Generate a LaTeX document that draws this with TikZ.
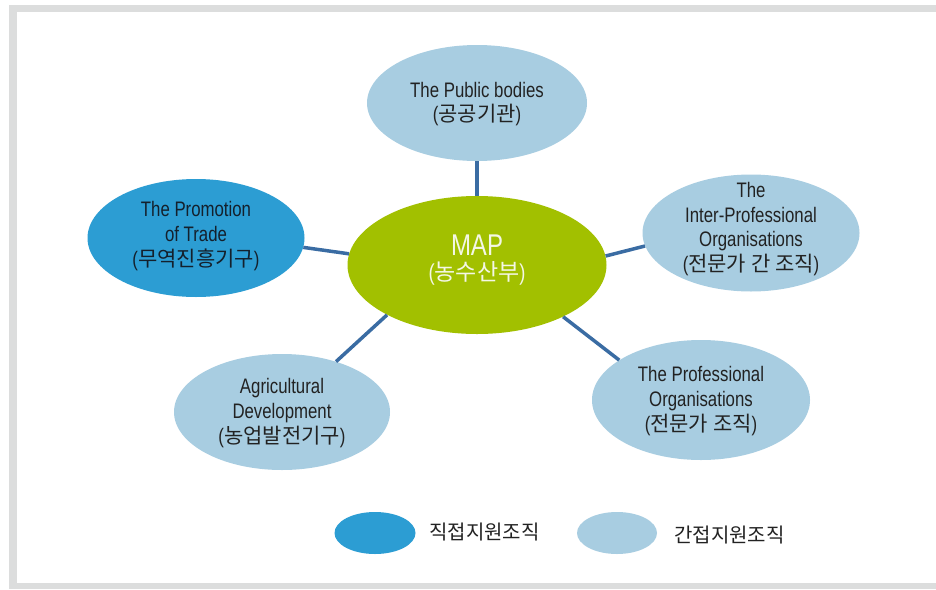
\documentclass[tikz,border=0pt]{standalone}
\usepackage{fontspec}
\setmainfont[FakeStretch=0.8]{Liberation Sans}
\newfontfamily\krfont{Noto Sans CJK KR}
\usetikzlibrary{shapes.geometric}

\definecolor{mapgreen}{HTML}{A2C000}
\definecolor{directblue}{HTML}{2C9DD3}
\definecolor{indirectblue}{HTML}{A8CDE1}
\definecolor{linkblue}{HTML}{3A6CA3}
\definecolor{framegray}{HTML}{DCDDDD}
\definecolor{labeltext}{HTML}{222222}
\definecolor{darklabel}{HTML}{14202C}
\definecolor{hublabel}{HTML}{F4F7E6}

\tikzset{
  blob/.style={ellipse, draw=none, inner sep=0pt},
  indirect/.style={blob, fill=indirectblue},
  direct/.style={blob, fill=directblue},
  hub/.style={blob, fill=mapgreen},
  caption/.style={align=center, text=labeltext, inner sep=0pt,
    font=\fontsize{21}{24.8}\selectfont},
  keytext/.style={anchor=west, text=labeltext, inner sep=0pt,
    font=\fontsize{20}{22}\selectfont\krfont},
  link/.style={draw=linkblue, line width=3.5pt},
}

\begin{document}
\begin{tikzpicture}[x=1pt, y=-1pt]
  \useasboundingbox (0,0) rectangle (936,589);
  \fill[white] (0,0) rectangle (936,589);

  % frame
  \fill[framegray] (9,5) rectangle (936,12);
  \fill[framegray] (9,5) rectangle (17,589);
  \fill[framegray] (9,583) rectangle (936,589);

  % organisations
  \node[indirect, minimum width=220pt, minimum height=116pt] (pub) at (477,103) {};
  \node[indirect, minimum width=217pt, minimum height=117pt] (inter) at (751,233) {};
  \node[indirect, minimum width=218pt, minimum height=120pt] (prof) at (701,400) {};
  \node[indirect, minimum width=216pt, minimum height=116pt] (agri) at (282,412) {};
  \node[direct, minimum width=217pt, minimum height=118pt] (promo) at (196,238) {};
  \node[hub, minimum width=259pt, minimum height=138pt] (map) at (477,265) {};

  % links to the ministry
  \draw[link] (pub.-90) -- (map.90);
  \draw[link] (promo.-5) -- (map.175);
  \draw[link] (inter.187) -- (map.4);
  \draw[link] (prof.154) -- (map.-31);
  \draw[link] (agri.43) -- (map.209);

  % labels
  \node[caption] (pubtext) at ([yshift=-1pt]pub.center) {The Public bodies\\({\krfont 공공기관})};
  \node[caption] (intertext) at ([yshift=4pt]inter.center)
    {The\\Inter-Professional\\Organisations\\({\krfont 전문가 간 조직})};
  \node[caption] (proftext) at ([yshift=-1pt]prof.center)
    {The Professional\\Organisations\\({\krfont 전문가 조직})};
  \node[caption] (agritext) at ([yshift=-1pt]agri.center)
    {Agricultural\\Development\\({\krfont 농업발전기구})};
  \node[caption, text=darklabel] (promotext) at ([yshift=2pt]promo.center)
    {The Promotion\\of Trade\\({\krfont 무역진흥기구})};
  \node[caption, text=hublabel] (maptext) at ([yshift=5pt]map.center)
    {{\fontsize{30}{28}\selectfont MAP}\\{\fontsize{23}{26}\selectfont({\krfont 농수산부})}};

  % legend
  \node[direct, minimum width=81pt, minimum height=42pt] (keydirect) at (375,533) {};
  \node[keytext] (keydirecttext) at (429,532) {직접지원조직};
  \node[indirect, minimum width=80pt, minimum height=42pt] (keyindirect) at (617,533) {};
  \node[keytext] (keyindirecttext) at (674,535) {간접지원조직};
\end{tikzpicture}
\end{document}
